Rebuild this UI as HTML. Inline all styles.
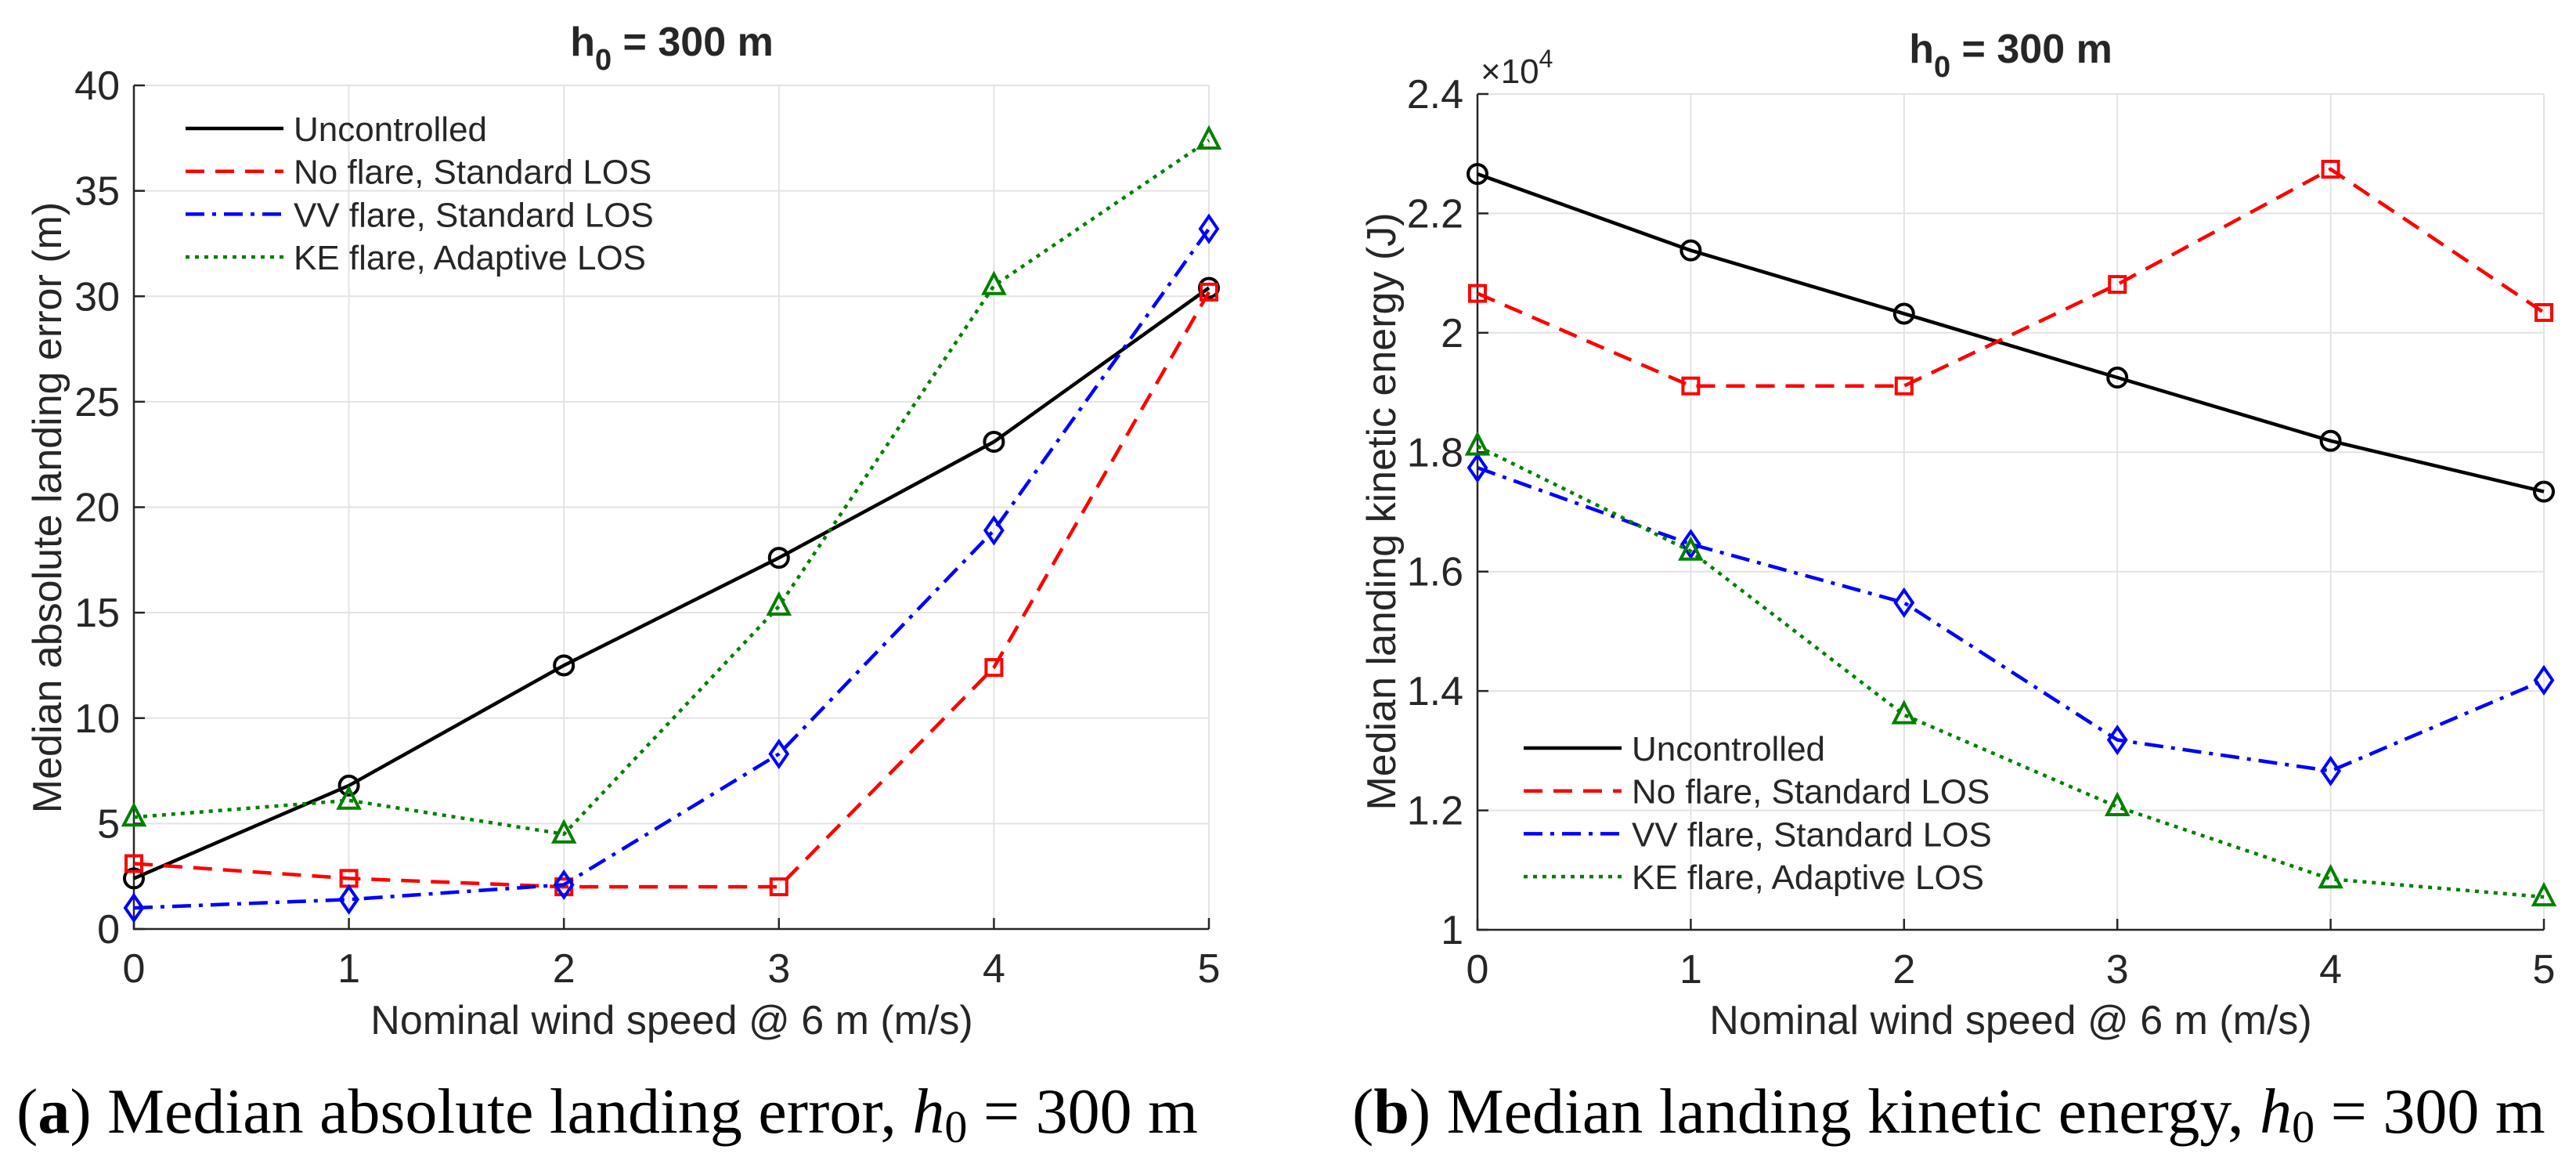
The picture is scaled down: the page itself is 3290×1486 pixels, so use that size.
<!DOCTYPE html>
<html><head><meta charset="utf-8"><style>
html,body{margin:0;padding:0;background:#fff}
svg{display:block}
text{font-family:"Liberation Sans",sans-serif;fill:#262626}
.cap{font-family:"Liberation Serif",serif;fill:#000;font-size:82px}
</style></head><body>
<svg id="fig" width="3290" height="1486" viewBox="0 0 3290 1486" xmlns="http://www.w3.org/2000/svg"></svg>
<script>
const windSpeeds = [0, 1, 2, 3, 4, 5];
const seriesNames = ["Uncontrolled", "No flare, Standard LOS", "VV flare, Standard LOS", "KE flare, Adaptive LOS"];
const errUncontrolled = [2.4, 6.8, 12.5, 17.6, 23.1, 30.4];
const errNoFlare = [3.1, 2.4, 2.0, 2.0, 12.4, 30.2];
const errVV = [1.0, 1.4, 2.1, 8.3, 18.9, 33.2];
const errKE = [5.3, 6.1, 4.5, 15.3, 30.5, 37.4];
const keUncontrolled = [2.266, 2.138, 2.032, 1.925, 1.819, 1.734];
const keNoFlare = [2.066, 1.911, 1.911, 2.081, 2.274, 2.034];
const keVV = [1.774, 1.646, 1.548, 1.318, 1.266, 1.418];
const keKE = [1.810, 1.634, 1.360, 1.206, 1.085, 1.055];
const errTicks = [0, 5, 10, 15, 20, 25, 30, 35, 40];
const errTickLabels = ["0","5","10","15","20","25","30","35","40"];
const keTicks = [1, 1.2, 1.4, 1.6, 1.8, 2, 2.2, 2.4];
const keTickLabels = ["1","1.2","1.4","1.6","1.8","2","2.2","2.4"];
const xTickLabels = ["0","1","2","3","4","5"];

const NS = "http://www.w3.org/2000/svg";
const svg = document.getElementById("fig");
function mk(tag, attrs, parent, txt){
  const e = document.createElementNS(NS, tag);
  for (const k in attrs) e.setAttribute(k, attrs[k]);
  if (txt !== undefined) e.textContent = txt;
  (parent || svg).appendChild(e);
  return e;
}
const styles = [
  {color:"#000000", dash:"", marker:"circle"},
  {color:"#ff0000", dash:"24 14", marker:"square"},
  {color:"#0000ff", dash:"24 10 5 10", marker:"diamond"},
  {color:"#008000", dash:"5 7", marker:"triangle"}
];
function marker(g, type, x, y, color){
  let m;
  if (type === "circle") m = mk("circle", {cx:x, cy:y, r:12}, g);
  else if (type === "square") m = mk("rect", {x:x-10, y:y-10, width:20, height:20}, g);
  else if (type === "diamond") m = mk("polygon", {points:`${x},${y-16} ${x+11},${y} ${x},${y+16} ${x-11},${y}`}, g);
  else m = mk("polygon", {points:`${x},${y-15} ${x+13},${y+10} ${x-13},${y+10}`}, g);
  m.setAttribute("fill", "none");
  m.setAttribute("stroke", color);
  m.setAttribute("stroke-width", "4");
  
  
}
function chart(cfg){
  const g = mk("g", {});
  
  
  const sx = v => cfg.x0 + (v - 0) / 5 * (cfg.x1 - cfg.x0);
  const sy = v => cfg.yb + (v - cfg.ymin) / (cfg.ymax - cfg.ymin) * (cfg.yt - cfg.yb);
  windSpeeds.forEach(v => {
    const l = mk("line", {x1:sx(v), x2:sx(v), y1:cfg.yt, y2:cfg.yb, stroke:"#e3e3e3", "stroke-width":2}, g);
    
    
  });
  cfg.ticks.forEach(v => {
    const l = mk("line", {x1:cfg.x0, x2:cfg.x1, y1:sy(v), y2:sy(v), stroke:"#e3e3e3", "stroke-width":2}, g);
    
    
  });
  const ax = mk("path", {d:`M${cfg.x0},${cfg.yt} L${cfg.x0},${cfg.yb} L${cfg.x1},${cfg.yb}`, fill:"none", stroke:"#262626", "stroke-width":2.5}, g);
  
  
  windSpeeds.forEach((v, i) => {
    mk("line", {x1:sx(v), x2:sx(v), y1:cfg.yb, y2:cfg.yb-14, stroke:"#262626", "stroke-width":2.5}, g);
    const t = mk("text", {x:sx(v), y:cfg.yb+68, "font-size":52, "text-anchor":"middle"}, g, xTickLabels[i]);
    
    
  });
  cfg.ticks.forEach((v, i) => {
    mk("line", {x1:cfg.x0, x2:cfg.x0+14, y1:sy(v), y2:sy(v), stroke:"#262626", "stroke-width":2.5}, g);
    const t = mk("text", {x:cfg.x0-18, y:sy(v)+18, "font-size":52, "text-anchor":"end"}, g, cfg.tickLabels[i]);
    
    
  });
  cfg.series.forEach((data, si) => {
    const st = styles[si];
    const sg = mk("g", {}, g);
    
    
    const pts = data.map((v, i) => sx(windSpeeds[i]) + "," + sy(v)).join(" ");
    const pl = mk("polyline", {points:pts, fill:"none", stroke:st.color, "stroke-width":4.5, "stroke-dasharray":st.dash}, sg);
    
    
    data.forEach((v, i) => marker(sg, st.marker, sx(windSpeeds[i]), sy(v), st.color));
  });
  const lg = mk("g", {}, g);
  
  
  seriesNames.forEach((n, i) => {
    const y = cfg.legY + i * 54.7;
    const st = styles[i];
    mk("line", {x1:cfg.legX, x2:cfg.legX+125, y1:y, y2:y, stroke:st.color, "stroke-width":4.5, "stroke-dasharray":st.dash}, lg);
    const t = mk("text", {x:cfg.legX+138, y:y+16, "font-size":44, fill:"#000"}, lg, n);
    
    
  });
  const tt = mk("text", {x:cfg.cx, y:cfg.titleY, "font-size":52, "font-weight":"bold", "text-anchor":"middle", fill:"#000"}, g);
  
  
  mk("tspan", {}, tt, "h");
  mk("tspan", {dy:18, "font-size":38}, tt, "0");
  mk("tspan", {dy:-18}, tt, " = 300 m");
  const xl = mk("text", {x:cfg.cx, y:1320, "font-size":52, "text-anchor":"middle"}, g, "Nominal wind speed @ 6 m (m/s)");
  
  
  const yl = mk("text", {x:0, y:0, "font-size":52, "text-anchor":"middle", transform:`translate(${cfg.ylx},${cfg.yly}) rotate(-90)`}, g, cfg.ylabel);
  
  
  const cp = mk("text", {class:"cap", x:cfg.capX, y:1446}, g);
  
  
  mk("tspan", {}, cp, "(");
  mk("tspan", {"font-weight":"bold"}, cp, cfg.capLetter);
  mk("tspan", {}, cp, ") " + cfg.capText + ", ");
  mk("tspan", {"font-style":"italic"}, cp, "h");
  mk("tspan", {dy:12, "font-size":58}, cp, "0");
  mk("tspan", {dy:-12}, cp, " = 300 m");
  return g;
}
chart({name:"landing-error-chart", x0:171, x1:1544, yt:109, yb:1186, ymin:0, ymax:40,
  ticks:errTicks, tickLabels:errTickLabels, series:[errUncontrolled, errNoFlare, errVV, errKE],
  legX:237, legY:164, cx:858, titleY:71, ylx:78, yly:648, ylabel:"Median absolute landing error (m)",
  capX:21, capLetter:"a", capText:"Median absolute landing error"});
chart({name:"kinetic-energy-chart", x0:1887, x1:3249, yt:120, yb:1187, ymin:1, ymax:2.4,
  ticks:keTicks, tickLabels:keTickLabels, series:[keUncontrolled, keNoFlare, keVV, keKE],
  legX:1946, legY:955, cx:2568, titleY:80, ylx:1782, yly:653, ylabel:"Median landing kinetic energy (J)",
  capX:1727, capLetter:"b", capText:"Median landing kinetic energy"});
const ex = mk("text", {x:1891, y:106, "font-size":44});


mk("tspan", {}, ex, "×10");
mk("tspan", {dy:-20, "font-size":32}, ex, "4");
</script>
</body></html>
